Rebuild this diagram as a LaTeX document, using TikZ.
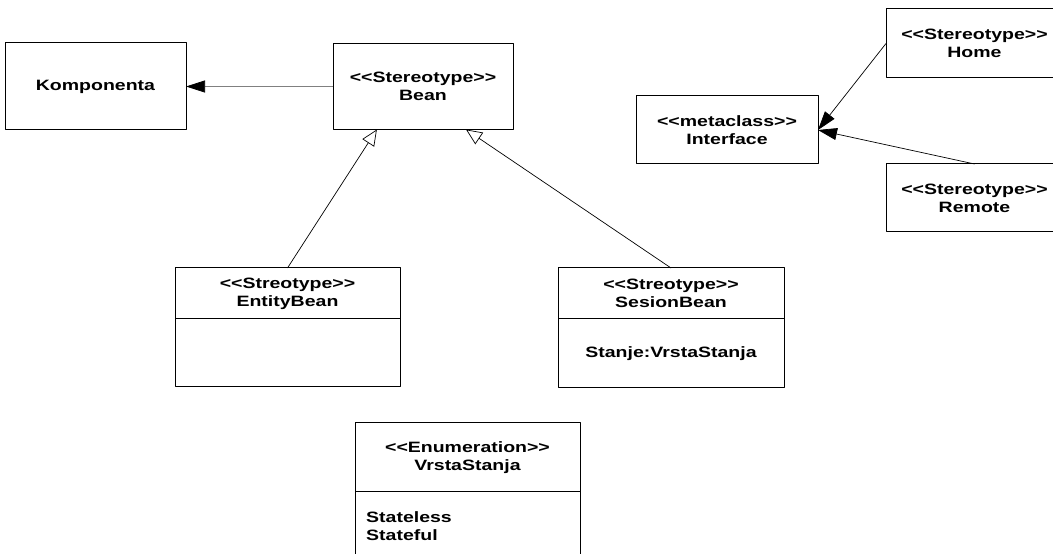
\documentclass[tikz,border=0pt]{standalone}
\usepackage{fontspec}
\newfontfamily\umlfont{Liberation Sans}[FakeStretch=1.3]
\usetikzlibrary{arrows.meta,positioning}

\begin{document}
\begin{tikzpicture}[x=1pt, y=1pt, font=\umlfont\fontsize{15}{18}\selectfont\bfseries,
		line join=round,
		box/.style={draw, line width=1pt, inner sep=0pt, outer sep=0pt, align=center},
		gen/.style={-{Triangle[open,length=16pt,width=14pt]}, line width=0.7pt},
		assoc/.style={-{Triangle[length=19pt,width=12pt,color=black]}, line width=0.7pt}]
	\path[use as bounding box, clip] (0,0) rectangle (1053,554);
	% top row
	\node[box, minimum width=181, minimum height=87] (komponenta) at (95.5,467.5) {Komponenta};
	\node[box, minimum width=180, minimum height=86] (bean) at (423,467.5) {<<Stereotype>>\\Bean};
	\node[box, minimum width=182, minimum height=68] (interface) at (727,424) {<<metaclass>>\\Interface};
	\node[box, minimum width=177, minimum height=69] (home) at (974.5,510.5) {<<Stereotype>>\\Home};
	\node[box, minimum width=177, minimum height=68] (remote) at (974.5,356) {<<Stereotype>>\\Remote};
	% beans with a second compartment
	\node[box, minimum width=225, minimum height=51] (entity) at (287.5,260.5) {<<Streotype>>\\EntityBean};
	\node[box, minimum width=225, minimum height=68, below=0pt of entity] (entitybody) {};
	\node[box, minimum width=226, minimum height=51] (sesion) at (671,260.5) {<<Streotype>>\\SesionBean};
	\node[box, minimum width=226, minimum height=69, below=0pt of sesion] (sesionbody) {Stanje:VrstaStanja};
	% enumeration
	\node[box, minimum width=225, minimum height=69] (vrsta) at (467.5,96.5) {<<Enumeration>>\\VrstaStanja};
	\node[box, minimum width=225, minimum height=80, below=0pt of vrsta] (vrstabody) {};
	\node[anchor=north west, align=left, inner sep=0pt] (vrstavalues) at ([xshift=11, yshift=-19]vrstabody.north west) {Stateless\\Stateful};
	% connectors
	\draw[assoc, gray] (bean) -- (komponenta);
	\draw[gen] (entity.north) -- (bean.223);
	\draw[gen] (sesion.north) -- (bean.315);
	\draw[assoc] (home.west) -- (interface.east);
	\draw[assoc] (remote.north) -- (interface.east);
\end{tikzpicture}
\end{document}
